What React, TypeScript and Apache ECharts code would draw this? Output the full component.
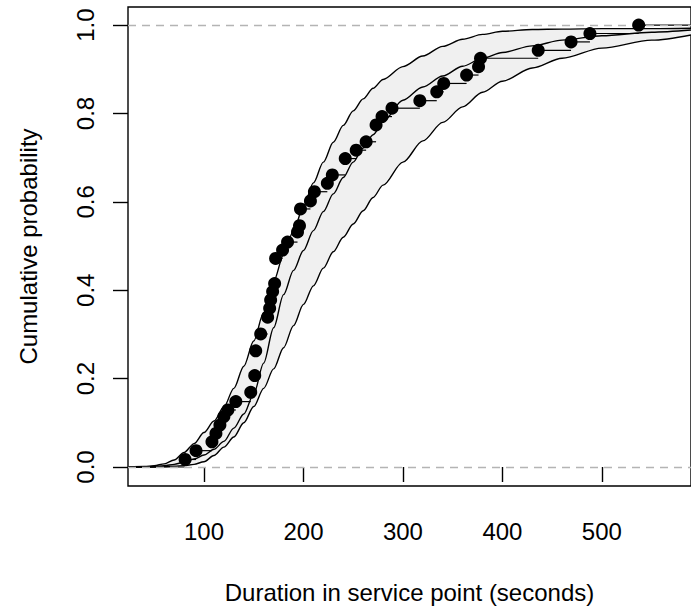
import { useEffect, useRef } from "react";
import * as echarts from "echarts";

// Empirical CDF points (duration in seconds, cumulative probability)
const ecdfX = [81, 92, 108, 112, 116, 120, 124, 132, 147, 151, 152, 157, 164, 166, 167, 169, 171, 172, 179, 184, 194, 196, 197, 207, 211, 224, 229, 242, 253, 263, 273, 279, 289, 317, 334, 341, 364, 376, 378, 436, 469, 488, 537];
const ecdfY = [0.017, 0.037, 0.057, 0.076, 0.095, 0.114, 0.129, 0.148, 0.169, 0.207, 0.263, 0.301, 0.339, 0.359, 0.378, 0.397, 0.415, 0.472, 0.491, 0.509, 0.532, 0.546, 0.584, 0.602, 0.623, 0.642, 0.661, 0.698, 0.717, 0.736, 0.774, 0.793, 0.812, 0.829, 0.849, 0.868, 0.887, 0.906, 0.925, 0.943, 0.962, 0.981, 1.0];

// Fitted CDF and confidence band, read at these durations
const curveX = [24, 40, 50, 60, 70, 80, 90, 100, 110, 120, 130, 140, 150, 160, 170, 180, 190, 200, 210, 220, 230, 240, 250, 260, 270, 280, 300, 320, 340, 360, 380, 400, 430, 460, 500, 550, 590];
const upperY = [0.0, 0.001, 0.003, 0.007, 0.016, 0.033, 0.053, 0.078, 0.104, 0.136, 0.178, 0.228, 0.285, 0.35, 0.42, 0.48, 0.535, 0.59, 0.643, 0.69, 0.735, 0.773, 0.806, 0.833, 0.857, 0.877, 0.906, 0.93, 0.952, 0.968, 0.979, 0.986, 0.99, 0.991, 0.992, 0.992, 0.993];
const fitY = [0.0, 0.0, 0.001, 0.003, 0.006, 0.011, 0.018, 0.027, 0.04, 0.058, 0.088, 0.12, 0.165, 0.235, 0.315, 0.39, 0.445, 0.49, 0.535, 0.578, 0.618, 0.655, 0.69, 0.722, 0.752, 0.782, 0.83, 0.86, 0.885, 0.907, 0.925, 0.938, 0.953, 0.966, 0.976, 0.984, 0.989];
const lowerY = [0.0, 0.0, 0.0, 0.001, 0.002, 0.003, 0.006, 0.012, 0.026, 0.045, 0.068, 0.1, 0.137, 0.178, 0.222, 0.27, 0.32, 0.368, 0.41, 0.45, 0.487, 0.52, 0.55, 0.58, 0.61, 0.638, 0.69, 0.738, 0.78, 0.815, 0.848, 0.873, 0.903, 0.925, 0.948, 0.966, 0.978];

const xTicks = [100, 200, 300, 400, 500];
const yTicks = [0, 0.2, 0.4, 0.6, 0.8, 1.0];
const refLines = [0, 1];

const X_MIN = 23.6;
const X_MAX = 589.6;
const Y_MIN = -0.043;
const Y_MAX = 1.041;
const FONT = "'Liberation Sans', Arial, sans-serif";

export default function App() {
  const ref = useRef<HTMLDivElement>(null);

  useEffect(() => {
    if (!ref.current) return;
    const chart = echarts.init(ref.current, undefined, { renderer: "svg" });

    const segs: number[][] = [[X_MIN, ecdfX[0], 0]];
    for (let i = 0; i < ecdfX.length; i++) {
      const next = i < ecdfX.length - 1 ? ecdfX[i + 1] : X_MAX;
      segs.push([ecdfX[i], next, ecdfY[i]]);
    }

    const curveLine = (ys: number[]) => ({
      type: "line",
      data: curveX.map((x, i) => [x, ys[i]]),
      showSymbol: false,
      smooth: 0.3,
      smoothMonotone: "x",
      lineStyle: { color: "#000", width: 1.4 },
      z: 3,
      silent: true,
    });

    chart.setOption({
      animation: false,
      backgroundColor: "#fff",
      grid: {
        left: 128,
        top: 7,
        right: -3,
        bottom: 128,
        show: true,
        borderColor: "#000",
        borderWidth: 1.4,
        backgroundColor: "transparent",
      },
      xAxis: {
        type: "value",
        min: X_MIN,
        max: X_MAX,
        axisLine: { show: false },
        splitLine: { show: false },
        axisTick: {
          show: true,
          inside: false,
          length: 15,
          customValues: xTicks,
          lineStyle: { color: "#000", width: 1.4 },
        },
        axisLabel: {
          customValues: xTicks,
          fontSize: 24,
          color: "#000",
          fontFamily: FONT,
          margin: 33,
        },
        name: "Duration in service point (seconds)",
        nameLocation: "middle",
        nameGap: 94,
        nameTextStyle: { fontSize: 24, color: "#000", fontFamily: FONT },
      },
      yAxis: {
        type: "value",
        min: Y_MIN,
        max: Y_MAX,
        axisLine: { show: false },
        splitLine: { show: false },
        axisTick: {
          show: true,
          inside: false,
          length: 15,
          customValues: yTicks,
          lineStyle: { color: "#000", width: 1.4 },
        },
        axisLabel: {
          customValues: yTicks,
          rotate: 90,
          fontSize: 24,
          color: "#000",
          fontFamily: FONT,
          margin: 31,
          formatter: (v: number) => v.toFixed(1),
        },
        name: "Cumulative probability",
        nameLocation: "middle",
        nameGap: 88,
        nameTextStyle: { fontSize: 24, color: "#000", fontFamily: FONT },
      },
      series: [
        {
          type: "custom",
          clip: true,
          silent: true,
          z: 1,
          data: [[curveX[0], upperY[0]]],
          renderItem: (_params: any, api: any) => {
            const pts: number[][] = [];
            for (let i = 0; i < curveX.length; i++) pts.push(api.coord([curveX[i], upperY[i]]));
            for (let i = curveX.length - 1; i >= 0; i--) pts.push(api.coord([curveX[i], lowerY[i]]));
            return {
              type: "polygon",
              shape: { points: pts, smooth: 0.2 },
              style: { fill: "#f0f0f0", stroke: "none" },
            };
          },
        },
        curveLine(upperY),
        curveLine(lowerY),
        curveLine(fitY),
        {
          type: "custom",
          clip: true,
          silent: true,
          z: 4,
          encode: { x: [0, 1], y: 2 },
          data: segs,
          renderItem: (_params: any, api: any) => {
            const p1 = api.coord([api.value(0), api.value(2)]);
            const p2 = api.coord([api.value(1), api.value(2)]);
            return {
              type: "line",
              shape: { x1: p1[0], y1: p1[1], x2: p2[0], y2: p2[1] },
              style: { stroke: "#000", lineWidth: 1.2 },
            };
          },
        },
        {
          type: "scatter",
          data: ecdfX.map((x, i) => [x, ecdfY[i]]),
          symbol: "circle",
          symbolSize: 13,
          itemStyle: { color: "#000", opacity: 1 },
          z: 5,
          silent: true,
        },
        {
          type: "scatter",
          data: [],
          z: 10,
          silent: true,
          markLine: {
            silent: true,
            symbol: "none",
            label: { show: false },
            lineStyle: { color: "#b4b4b4", type: [8, 6], width: 1.4, opacity: 1 },
            data: refLines.map((v) => ({ yAxis: v })),
          },
        },
      ],
    });

    return () => chart.dispose();
  }, []);

  return (
    <div
      ref={ref}
      style={{ position: "absolute", left: 0, top: 0, width: 691, height: 614 }}
    />
  );
}
